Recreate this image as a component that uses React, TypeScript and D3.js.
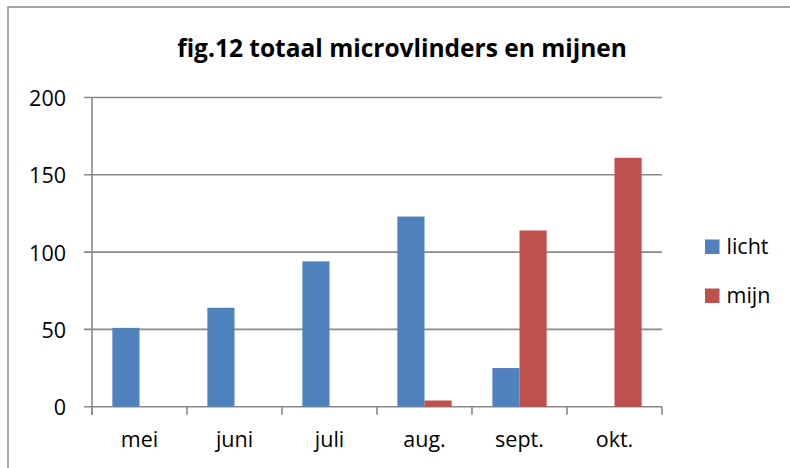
import React from "react";
import * as d3 from "d3";

const categories = ["mei", "juni", "juli", "aug.", "sept.", "okt."];
const licht = [51, 64, 94, 123, 25, 0];
const mijn = [0, 0, 0, 4, 114, 161];
const seriesNames = ["licht", "mijn"];
const seriesColors = ["#4F81BD", "#C0504D"];
const yTicks = [0, 50, 100, 150, 200];
const title = "fig.12 totaal microvlinders en mijnen";

const W = 790;
const H = 468;
const FONT = "'Open Sans', 'Noto Sans', sans-serif";

export default function App() {
  const left = 92;
  const right = 662;
  const top = 97.5;
  const bottom = 406.7;
  const x = d3.scaleBand<string>().domain(categories).range([left, right]).padding(0);
  const y = d3.scaleLinear().domain([0, 200]).range([bottom, top]);
  const band = x.bandwidth();
  const bw = band / 3.5;
  const series = [licht, mijn];
  const gridColor = "#898989";

  return (
    <svg
      width={W}
      height={H}
      style={{ position: "absolute", left: 0, top: 0, background: "#fff" }}
    >
      <rect x={0} y={0} width={W} height={H} fill="#fff" />
      <rect x={8} y={7} width={W + 20} height={H + 20} fill="none" stroke="#8a8a8a" strokeWidth={1.5} />
      <text
        x={402}
        y={56.5}
        textAnchor="middle"
        fontFamily={FONT}
        fontWeight="bold"
        fontSize={24.5}
        fill="#000"
      >
        {title}
      </text>
      {yTicks.map((t) => (
        <g key={t}>
          <line x1={left - 8} x2={right} y1={y(t)} y2={y(t)} stroke={gridColor} strokeWidth={1.6} />
          <text
            x={66}
            y={y(t) + 8.5}
            textAnchor="end"
            fontFamily={FONT}
            fontSize={21.5}
            fill="#000"
          >
            {t}
          </text>
        </g>
      ))}
      <line x1={left} x2={left} y1={top} y2={bottom + 8} stroke={gridColor} strokeWidth={1.6} />
      {[...categories.map((c) => x(c) as number), right].map((xx, i) => (
        <line key={i} x1={xx} x2={xx} y1={bottom} y2={bottom + 8} stroke={gridColor} strokeWidth={1.6} />
      ))}
      {categories.map((c, i) => (
        <g key={c}>
          {series.map((s, j) => {
            const v = s[i];
            if (!v) return null;
            const bx = (x(c) as number) + band * (0.75 / 3.5) + j * bw;
            return (
              <rect
                key={j}
                x={bx}
                y={y(v)}
                width={bw}
                height={y(0) - y(v)}
                fill={seriesColors[j]}
              />
            );
          })}
          <text
            x={(x(c) as number) + band / 2}
            y={447}
            textAnchor="middle"
            fontFamily={FONT}
            fontSize={21.5}
            fill="#000"
          >
            {c}
          </text>
        </g>
      ))}
      {seriesNames.map((n, j) => (
        <g key={n}>
          <rect x={705} y={239.5 + j * 49} width={14.5} height={14.5} fill={seriesColors[j]} />
          <text x={726.5} y={253.5 + j * 49} fontFamily={FONT} fontSize={21.5} fill="#000">
            {n}
          </text>
        </g>
      ))}
    </svg>
  );
}
